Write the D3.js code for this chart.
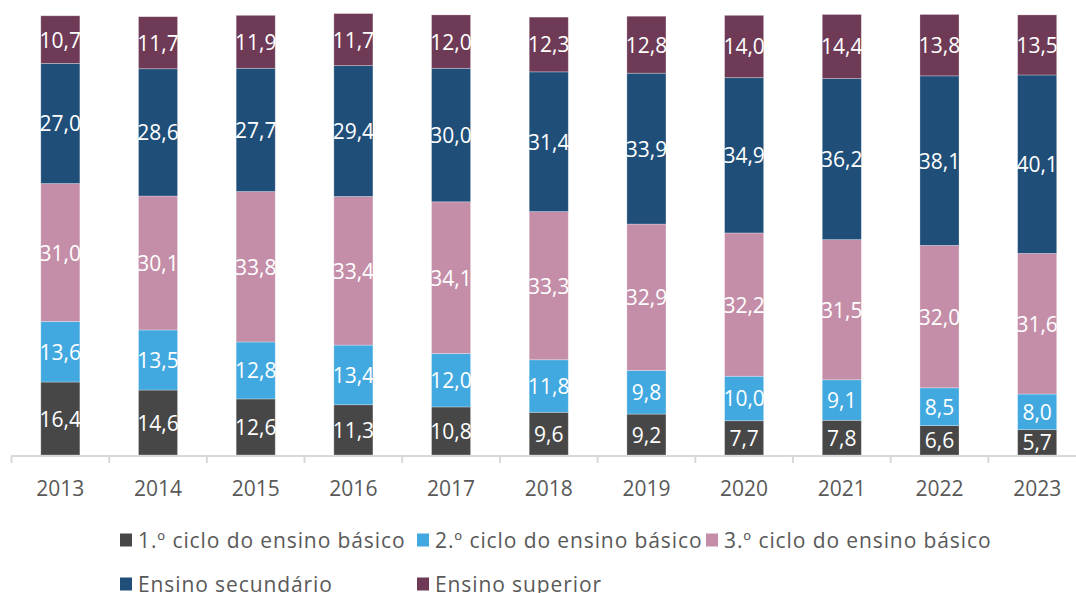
<!DOCTYPE html>
<html>
<head>
<meta charset="utf-8">
<script src="https://cdn.jsdelivr.net/npm/d3@7"></script>
<style>
  body { margin: 0; background: #fff; }
  svg { display: block; font-family: "Open Sans", sans-serif; }
</style>
</head>
<body>
<div id="chart"></div>
<script>
const years = ["2013", "2014", "2015", "2016", "2017", "2018", "2019", "2020", "2021", "2022", "2023"];
const seriesNames = ["1.º ciclo do ensino básico", "2.º ciclo do ensino básico", "3.º ciclo do ensino básico", "Ensino secundário", "Ensino superior"];
const ciclo1 = [16.4, 14.6, 12.6, 11.3, 10.8, 9.6, 9.2, 7.7, 7.8, 6.6, 5.7];
const ciclo2 = [13.6, 13.5, 12.8, 13.4, 12.0, 11.8, 9.8, 10.0, 9.1, 8.5, 8.0];
const ciclo3 = [31.0, 30.1, 33.8, 33.4, 34.1, 33.3, 32.9, 32.2, 31.5, 32.0, 31.6];
const secundario = [27.0, 28.6, 27.7, 29.4, 30.0, 31.4, 33.9, 34.9, 36.2, 38.1, 40.1];
const superior = [10.7, 11.7, 11.9, 11.7, 12.0, 12.3, 12.8, 14.0, 14.4, 13.8, 13.5];
const colors = ["#474747", "#41a9e0", "#c48ea9", "#1f4e79", "#6e3a55"];

const width = 1076, height = 593;
const baseY = 455;

const allSeries = [ciclo1, ciclo2, ciclo3, secundario, superior];
const rows = years.map((y, i) => {
  const r = { year: y };
  seriesNames.forEach((s, k) => r[s] = allSeries[k][i]);
  return r;
});
const stacked = d3.stack().keys(seriesNames)(rows);

const svg = d3.select("#chart").append("svg")
  .attr("width", width)
  .attr("height", height);

const x = d3.scaleBand()
  .domain(years)
  .range([11.5, 1086])
  .paddingInner(0.6)
  .paddingOuter(0.3);

const y = d3.scaleLinear()
  .domain([0, 100])
  .range([baseY, 10]);

const fmt = v => v.toFixed(1).replace(".", ",");

const layers = svg.selectAll(".layer")
  .data(stacked)
  .enter().append("g")
  .attr("fill", (d, i) => colors[i]);

layers.selectAll("rect")
  .data(d => d)
  .enter().append("rect")
  .attr("x", d => x(d.data.year))
  .attr("y", d => y(d[1]))
  .attr("width", x.bandwidth())
  .attr("height", d => y(d[0]) - y(d[1]))
  .attr("stroke", "#ffffff")
  .attr("stroke-opacity", 0.35)
  .attr("stroke-width", 0.8);

layers.selectAll("text")
  .data(d => d.map(p => ({ p, key: d.key })))
  .enter().append("text")
  .attr("x", d => x(d.p.data.year) + x.bandwidth() / 2)
  .attr("y", d => (y(d.p[0]) + y(d.p[1])) / 2)
  .attr("text-anchor", "middle")
  .attr("dominant-baseline", "central")
  .attr("fill", "#ffffff")
  .style("font-size", "21px")
  .text(d => fmt(d.p.data[d.key]));

// axis
const step = x.step();
const axis = svg.append("g");
axis.append("line")
  .attr("x1", 11).attr("x2", width)
  .attr("y1", baseY + 1).attr("y2", baseY + 1)
  .attr("stroke", "#d9d9d9").attr("stroke-width", 2);
axis.selectAll(".tick")
  .data(d3.range(years.length + 1))
  .enter().append("line")
  .attr("x1", i => 11.5 + i * step)
  .attr("x2", i => 11.5 + i * step)
  .attr("y1", baseY + 1).attr("y2", baseY + 8)
  .attr("stroke", "#d9d9d9").attr("stroke-width", 2);
axis.selectAll(".year")
  .data(years)
  .enter().append("text")
  .attr("x", d => x(d) + x.bandwidth() / 2)
  .attr("y", 488)
  .attr("text-anchor", "middle")
  .attr("dominant-baseline", "central")
  .attr("fill", "#595959")
  .style("font-size", "21px")
  .text(d => d);

// legend
const legend = svg.append("g");
const legendPos = [
  { x: 120, y: 540 }, { x: 417, y: 540 }, { x: 706, y: 540 },
  { x: 120, y: 584 }, { x: 417, y: 584 }
];
seriesNames.forEach((s, i) => {
  const g = legend.append("g").attr("transform", `translate(${legendPos[i].x},${legendPos[i].y})`);
  g.append("rect")
    .attr("x", 0).attr("y", -6.5)
    .attr("width", 12).attr("height", 13)
    .attr("fill", colors[i]);
  g.append("text")
    .attr("x", 18).attr("y", 0)
    .attr("dominant-baseline", "central")
    .attr("fill", "#595959")
    .style("font-size", "21px")
    .style("letter-spacing", "0.9px")
    .text(s);
});
</script>
</body>
</html>
